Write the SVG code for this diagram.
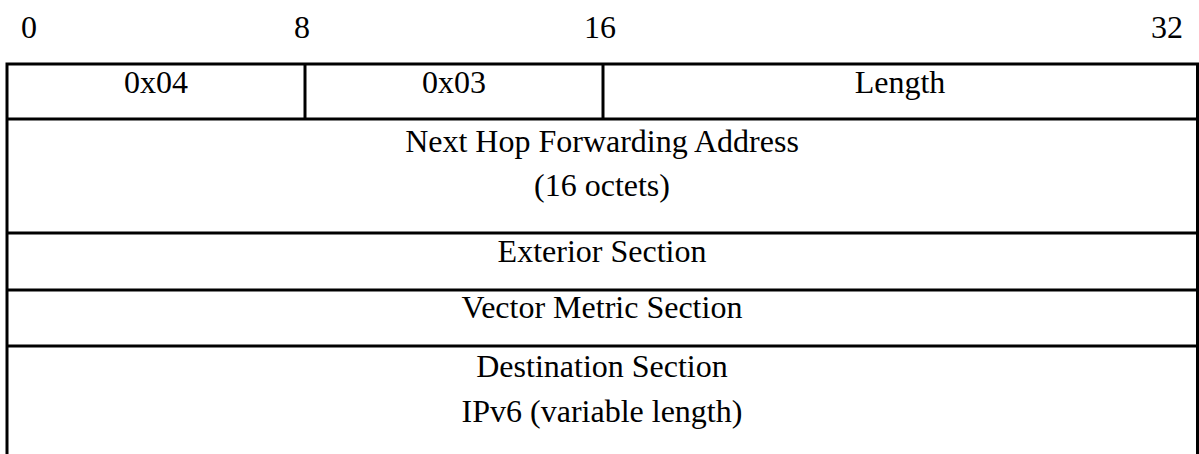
<svg xmlns="http://www.w3.org/2000/svg" width="1199" height="454" viewBox="0 0 1199 454">
<style>
text{font-family:"Liberation Serif","Times New Roman",serif;font-size:32px;fill:#000}
.c{text-anchor:middle}
.ln{stroke:#000;stroke-width:3;fill:none}
</style>
<rect width="1199" height="454" fill="#fff"/>
<g id="scale">
<text x="21" y="37.5">0</text>
<text x="294" y="37.5">8</text>
<text x="584" y="37.5">16</text>
<text x="1151" y="37.5">32</text>
</g>
<g id="frame">
<path class="ln" d="M7,470 V64 H1197.5 V470"/>
</g>
<g id="type">
<path class="ln" d="M305,64 V119"/>
<text class="c" x="156" y="93">0x04</text>
</g>
<g id="code">
<path class="ln" d="M603,64 V119"/>
<text class="c" x="454" y="93">0x03</text>
</g>
<g id="length">
<text class="c" x="900" y="93">Length</text>
</g>
<g id="nexthop">
<path class="ln" d="M7,119 H1197.5"/>
<text class="c" x="602" y="152">Next Hop Forwarding Address</text>
<text class="c" x="602" y="196">(16 octets)</text>
</g>
<g id="exterior">
<path class="ln" d="M7,233 H1197.5"/>
<text class="c" x="602" y="262">Exterior Section</text>
</g>
<g id="vector">
<path class="ln" d="M7,290 H1197.5"/>
<text class="c" x="602" y="318">Vector Metric Section</text>
</g>
<g id="destination">
<path class="ln" d="M7,346 H1197.5"/>
<text class="c" x="602" y="377">Destination Section</text>
<text class="c" x="602" y="422">IPv6 (variable length)</text>
</g>
<g id="connectors"></g>
</svg>
